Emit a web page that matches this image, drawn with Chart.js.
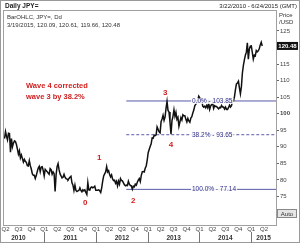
<!DOCTYPE html>
<html lang="en">
<head>
    <meta charset="UTF-8">
    <title>Daily JPY=</title>
    <script src="https://cdn.jsdelivr.net/npm/chart.js"></script>
    <style>
        html, body { margin: 0; padding: 0; background: #fff; }
        #wrap { width: 300px; height: 243px; position: relative; }
    </style>
</head>
<body>
<div id="wrap"><canvas id="jpyChart" width="300" height="243"></canvas></div>
<script>
    // weekly closes, first one is Friday 2010-03-26
    const firstWeek = '2010-03-26';
    const closes2010 = [92.5, 94.6, 93.2, 92.1, 94.1, 94.0, 88.4, 92.5, 90.0, 91.1, 91.8, 91.6, 90.7, 89.3,
        87.8, 88.8, 86.6, 87.5, 86.5, 85.4, 86.2, 85.6, 85.3, 84.3, 84.2, 85.8, 84.3, 83.3, 81.9, 81.4,
        81.4, 80.4, 81.3, 82.5, 83.6, 84.1, 82.5, 83.9, 84.0, 82.9, 81.2];
    const closes2011 = [83.2, 82.8, 82.5, 82.1, 81.7, 83.4, 83.1, 81.7, 82.4, 81.9, 76.5, 81.5, 84.0, 84.9,
        83.1, 81.8, 81.2, 80.6, 80.8, 81.7, 80.8, 80.4, 80.2, 80.0, 80.4, 80.8, 81.1, 79.1, 78.4, 76.8,
        78.4, 76.8, 76.5, 76.7, 76.8, 77.6, 76.8, 76.4, 77.0, 76.7, 77.0, 76.2, 75.6, 79.2, 77.0, 76.9,
        77.7, 77.9, 77.6, 77.8, 78.1, 76.9];
    const closes2012 = [76.9, 76.9, 77.0, 76.7, 76.2, 77.6, 79.6, 81.2, 81.8, 82.4, 84.0, 82.4, 82.8, 81.6,
        80.9, 81.5, 80.3, 79.8, 79.9, 79.0, 79.6, 78.2, 79.6, 78.7, 80.4, 79.8, 79.7, 79.1, 78.5, 78.2,
        78.4, 78.3, 79.6, 78.7, 78.3, 78.2, 77.2, 78.1, 77.9, 78.7, 78.4, 79.3, 79.9, 80.4, 79.5, 81.3,
        82.4, 82.5, 82.4, 83.5, 84.2, 85.9];
    const closes2013 = [88.2, 89.2, 90.1, 90.9, 92.7, 92.6, 93.5, 93.4, 93.6, 96.0, 95.3, 94.5, 94.2, 97.6,
        98.4, 99.5, 98.0, 99.0, 101.6, 103.7, 101.0, 100.5, 97.5, 93.8, 97.9, 99.2, 101.2, 99.2, 100.4,
        98.3, 98.9, 96.2, 97.5, 98.8, 98.1, 99.7, 99.4, 99.4, 98.3, 97.5, 98.6, 97.8, 97.4, 98.7, 99.1,
        100.2, 101.1, 102.4, 102.9, 103.2, 104.2, 105.3];
    const closes2014 = [104.8, 104.1, 104.3, 102.3, 102.0, 102.3, 101.8, 102.5, 101.8, 103.3, 101.3, 102.3,
        102.8, 103.3, 101.6, 102.4, 102.2, 102.2, 101.8, 101.5, 101.9, 101.8, 102.5, 102.0, 102.0, 101.4,
        102.0, 101.3, 101.3, 101.8, 102.6, 102.0, 102.4, 103.8, 103.9, 105.1, 107.3, 109.0, 109.3, 109.8,
        107.8, 106.0, 108.2, 112.3, 114.6, 116.3, 117.7, 118.6, 121.4, 116.5, 119.5, 120.4];
    const closes2015 = [120.5, 118.5, 116.5, 117.7, 117.5, 119.1, 118.7, 119.0, 119.6, 120.8, 121.6, 120.48];

    const yTicks = [70, 75, 80, 85, 90, 95, 100, 105, 110, 115, 120, 125];
    const quarterNames = ['Q1', 'Q2', 'Q3', 'Q4'];
    const years = [2010, 2011, 2012, 2013, 2014, 2015];

    // fibonacci retracement of wave 3
    const fibLabels = ['0.0% - 103.85', '38.2% - 93.65', '100.0% - 77.14'];
    const fibValues = [103.85, 93.65, 77.14];
    const fibDashed = [false, true, false];
    const fibStart = 2012.585;

    // wave counts
    const waveNames = ['0', '1', '2', '3', '4'];
    const waveX = [2011.79, 2012.06, 2012.72, 2013.34, 2013.45];
    const waveY = [73.0, 86.6, 73.6, 106.4, 90.6];

    const xMin = 2010.22, xMax = 2015.48;
    const yMin = 66.37, yMax = 131.04;
    const lastPrice = 120.48;

    function toYear(d) {
        const y = d.getUTCFullYear();
        const start = Date.UTC(y, 0, 1), end = Date.UTC(y + 1, 0, 1);
        return y + (d.getTime() - start) / (end - start);
    }

    const allCloses = [].concat(closes2010, closes2011, closes2012, closes2013, closes2014, closes2015);
    const t0 = new Date(firstWeek + 'T00:00:00Z').getTime();
    const pricePoints = allCloses.map((v, i) => ({ x: toYear(new Date(t0 + i * 7 * 86400000)), y: v }));

    const fibSets = fibValues.map((v, i) => ({
        data: [{ x: fibStart, y: v }, { x: xMax, y: v }],
        borderColor: '#5a5aa8',
        borderWidth: 1,
        borderDash: fibDashed[i] ? [3, 2] : [],
        pointRadius: 0
    }));

    const labelFont = 'Liberation Sans, Arial, sans-serif';

    const decorations = {
        id: 'decorations',
        afterDraw(chart) {
            const c = chart.ctx;
            const xs = chart.scales.x, ys = chart.scales.y;
            const a = chart.chartArea;
            c.save();
            // frames
            c.strokeStyle = '#9a9a9a';
            c.lineWidth = 1;
            c.strokeRect(0.5, 0.5, 299, 242);
            c.strokeStyle = '#a0a0a0';
            c.strokeRect(a.left - 0.5, a.top - 0.5, a.right - a.left + 1, a.bottom - a.top + 1);

            // header
            c.fillStyle = '#222';
            c.textBaseline = 'middle';
            c.font = 'bold 6.5px ' + labelFont;
            c.textAlign = 'left';
            c.fillText('Daily JPY=', 5, 6);
            c.font = '6px ' + labelFont;
            c.textAlign = 'right';
            c.fillText('3/22/2010 - 6/24/2015 (GMT)', 297, 6);
            c.textAlign = 'left';
            c.fillStyle = '#333';
            c.fillText('BarOHLC, JPY=, Dd', 7, 17);
            c.fillText('3/19/2015, 120.09, 120.61, 119.66, 120.48', 7, 25);

            // axis title
            c.fillStyle = '#333';
            c.fillText('Price', 279, 15);
            c.fillText('/USD', 279, 22);

            // fib labels
            c.font = '6.5px ' + labelFont;
            c.textAlign = 'left';
            fibValues.forEach((v, i) => {
                const py = ys.getPixelForValue(v);
                const w = c.measureText(fibLabels[i]).width;
                c.fillStyle = 'rgba(255,255,255,0.85)';
                c.fillRect(191, py - 3, w + 2, 6);
                c.fillStyle = '#2e2e8a';
                c.fillText(fibLabels[i], 192, py);
            });

            // wave numbers
            c.fillStyle = '#d02020';
            c.textAlign = 'center';
            c.font = 'bold 8px ' + labelFont;
            waveNames.forEach((n, i) => {
                c.fillText(n, xs.getPixelForValue(waveX[i]), ys.getPixelForValue(waveY[i]));
            });
            c.textAlign = 'left';
            c.font = 'bold 7.5px ' + labelFont;
            c.fillText('Wave 4 corrected', 26, 86);
            c.fillText('wave 3 by 38.2%', 26, 97);

            // year labels and separators
            c.fillStyle = '#333';
            c.textAlign = 'center';
            c.font = 'bold 6.5px ' + labelFont;
            years.forEach(yr => {
                const mid = yr === 2015 ? (yr + xMax) / 2 : yr + 0.5;
                c.fillText(String(yr), xs.getPixelForValue(mid), 238);
                if (yr > 2010) {
                    const px = Math.round(xs.getPixelForValue(yr)) + 0.5;
                    c.strokeStyle = '#777';
                    c.beginPath();
                    c.moveTo(px, 232);
                    c.lineTo(px, 243);
                    c.stroke();
                }
            });

            // last price box
            const ly = ys.getPixelForValue(lastPrice);
            c.fillStyle = '#111';
            c.fillRect(277, ly - 4, 21, 8);
            c.fillStyle = '#fff';
            c.font = 'bold 6px ' + labelFont;
            c.fillText('120.48', 287.5, ly + 0.5);

            // auto button
            c.fillStyle = '#e6e6e6';
            c.fillRect(277, 209, 20, 9);
            c.strokeStyle = '#888';
            c.strokeRect(277.5, 209.5, 19, 8);
            c.fillStyle = '#333';
            c.font = '6px ' + labelFont;
            c.fillText('Auto', 287, 214);
            c.restore();
        }
    };

    const ctx = document.getElementById('jpyChart').getContext('2d');
    const chart = new Chart(ctx, {
        type: 'line',
        data: {
            datasets: [{
                data: pricePoints,
                borderColor: '#111',
                borderWidth: 1.5,
                pointRadius: 0,
                tension: 0
            }].concat(fibSets)
        },
        options: {
            responsive: false,
            animation: false,
            events: [],
            layout: { padding: { left: 4, top: 11, right: 0, bottom: 0 } },
            plugins: { legend: { display: false }, tooltip: { enabled: false } },
            scales: {
                x: {
                    type: 'linear',
                    min: xMin,
                    max: xMax,
                    afterFit: s => { s.height = 18; },
                    afterBuildTicks: s => {
                        const t = [];
                        for (let q = 2010.25; q <= 2015.3; q += 0.25) t.push({ value: q });
                        s.ticks = t;
                    },
                    grid: { display: false, drawTicks: false, tickLength: 0 },
                    border: { display: false },
                    ticks: {
                        autoSkip: false,
                        maxRotation: 0,
                        padding: 1,
                        color: '#444',
                        font: { size: 6, family: labelFont },
                        callback: v => quarterNames[Math.round((v % 1) * 4) % 4]
                    }
                },
                y: {
                    position: 'right',
                    min: yMin,
                    max: yMax,
                    afterFit: s => { s.width = 24; },
                    afterBuildTicks: s => { s.ticks = yTicks.map(v => ({ value: v })); },
                    grid: { drawOnChartArea: false, tickLength: 3, color: '#666' },
                    border: { display: true, color: '#888' },
                    ticks: {
                        padding: 1,
                        color: '#444',
                        font: c => ({ size: 6, family: labelFont, weight: c.tick && c.tick.value === 100 ? 'bold' : 'normal' }),
                        callback: v => String(v)
                    }
                }
            }
        },
        plugins: [decorations]
    });
</script>
</body>
</html>
